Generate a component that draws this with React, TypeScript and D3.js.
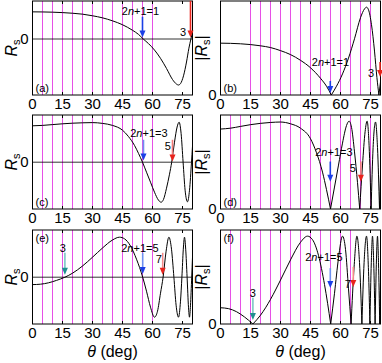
import * as d3 from 'd3';
import React from 'react';

// angle samples (deg) and Rs values
const thetaA = [0, 5, 10, 15, 20, 25, 30, 35, 40, 45, 50, 53, 55.4, 58, 61, 64, 67, 70, 72, 73, 74, 75.5, 77, 78.2, 79.2, 80];
const rsA = [0.59, 0.588, 0.583, 0.574, 0.56, 0.54, 0.505, 0.46, 0.395, 0.31, 0.19, 0.1, 0, -0.1, -0.24, -0.42, -0.64, -0.88, -0.98, -1.0, -0.97, -0.8, -0.5, -0.2, 0, 0.15];

const thetaC = [0, 5, 10, 15, 20, 25, 30, 35, 40, 45, 48, 51, 53, 55, 57, 59, 61, 63, 64.3, 65.5, 67, 68.5, 69.6, 71, 72.3, 73.3, 74.3, 75.3, 76.3, 77.5, 78.5, 79.5, 80];
const rsC = [0.91, 0.92, 0.94, 0.96, 0.975, 0.985, 0.99, 0.97, 0.92, 0.8, 0.64, 0.42, 0.22, 0, -0.25, -0.5, -0.75, -0.95, -1.0, -0.93, -0.65, -0.3, 0, 0.5, 0.88, 1.0, 0.72, 0, -0.7, -0.99, -0.7, 0, 0.4];

const thetaE = [0, 4, 8, 12, 16.2, 20, 25, 30, 35, 40, 43.5, 46, 49, 52, 55.1, 57, 59, 61, 62.5, 64, 65.3, 66.8, 68.2, 69.5, 70.7, 71.8, 73, 74, 74.7, 75.4, 76, 76.6, 77.3, 78, 78.5, 79, 79.6, 80];
const rsE = [-0.185, -0.175, -0.14, -0.08, 0, 0.1, 0.28, 0.5, 0.73, 0.93, 1.0, 0.96, 0.78, 0.45, 0, -0.35, -0.75, -1.0, -0.85, -0.4, 0, 0.65, 1.0, 0.7, 0, -0.7, -1.0, -0.6, 0, 0.7, 1.0, 0.7, 0, -0.75, -1.0, -0.7, 0, 0.5];

const xTicks = [0, 15, 30, 45, 60, 75];
const gridA = [5, 10, 15, 20, 25, 30, 35, 40, 45, 50, 55, 60];
const gridB = [15, 20, 25, 30, 35, 40, 45, 50, 55, 60, 65, 70, 75];
const gridC = [5, 10, 15, 20, 25, 30, 35, 40, 45, 50, 55, 60];
const gridD = [5, 10, 15, 20, 25, 30, 35, 40, 45, 50, 55, 60, 65, 70, 75];
const gridE = [5, 10, 15, 20, 25, 30, 35, 40, 45, 50, 55, 60];
const gridF = [5, 10, 15, 20, 25, 30, 35, 40, 45, 50, 55, 60, 65];

const BLUE = '#1b3fe6';
const RED = '#e8231c';
const TEAL = '#1f9090';

type Note = { theta: number; from: number; to: number; shaft: string; head: string; text: string; tTheta: number; tVal: number };

const notesA: Note[] = [
  { theta: 55, from: 0.485, to: 0.03, shaft: BLUE, head: BLUE, text: '2n+1=1', tTheta: 54, tVal: 0.52 },
  { theta: 79, from: 0.83, to: 0.03, shaft: RED, head: RED, text: '3', tTheta: 75.3, tVal: 0.065 },
];
const notesB: Note[] = [
  { theta: 54.9, from: 0.16, to: 0.023, shaft: BLUE, head: BLUE, text: '2n+1=1', tTheta: 55, tVal: 0.33 },
  { theta: 79.8, from: 0.376, to: 0.205, shaft: RED, head: RED, text: '3', tTheta: 75.3, tVal: 0.205 },
];
const notesC: Note[] = [
  { theta: 55.5, from: 0.56, to: 0.04, shaft: '#6e8ff0', head: BLUE, text: '2n+1=3', tTheta: 58.2, tVal: 0.64 },
  { theta: 70, from: 0.56, to: 0.015, shaft: '#f07a7a', head: RED, text: '5', tTheta: 67.6, tVal: 0.31 },
];
const notesD: Note[] = [
  { theta: 54.9, from: 0.54, to: 0.31, shaft: BLUE, head: BLUE, text: '2n+1=3', tTheta: 56.7, tVal: 0.6 },
  { theta: 70.2, from: 0.54, to: 0.31, shaft: '#f07a7a', head: RED, text: '5', tTheta: 66.1, tVal: 0.42 },
];
const notesE: Note[] = [
  { theta: 16.2, from: 0.61, to: 0.06, shaft: '#7cc6c6', head: TEAL, text: '3', tTheta: 15.2, tVal: 0.64 },
  { theta: 55.1, from: 0.61, to: 0.08, shaft: '#6e8ff0', head: BLUE, text: '2n+1=5', tTheta: 53.7, tVal: 0.63 },
  { theta: 65.1, from: 0.61, to: 0.06, shaft: '#f48a8a', head: RED, text: '7', tTheta: 63.2, tVal: 0.365 },
];
const notesF: Note[] = [
  { theta: 16.2, from: 0.3, to: 0.045, shaft: '#7cc6c6', head: TEAL, text: '3', tTheta: 16.2, tVal: 0.31 },
  { theta: 54.9, from: 0.636, to: 0.41, shaft: '#6e8ff0', head: BLUE, text: '2n+1=5', tTheta: 51.7, tVal: 0.715 },
  { theta: 66.4, from: 0.65, to: 0.42, shaft: '#f48a8a', head: RED, text: '7', tTheta: 63.6, tVal: 0.41 },
];

const W = 160;
const H = 94;
const FONT = 'Liberation Sans, Arial, sans-serif';

function NText({ s, x, y }: { s: string; x: number; y: number }) {
  // "2n+1=k" with italic n
  if (s.startsWith('2n')) {
    return (
      <text x={x} y={y} fontSize={11} textAnchor="middle" fontFamily={FONT}>
        2<tspan fontStyle="italic">n</tspan>{s.slice(2)}
      </text>
    );
  }
  return <text x={x} y={y} fontSize={11} textAnchor="middle" fontFamily={FONT}>{s}</text>;
}

function Panel({ left, top, theta, rs, abs, domain, grid, label, labelTop, notes, showX }: any) {
  const x = d3.scaleLinear().domain([0, 80]).range([left, left + W]);
  const y = d3.scaleLinear().domain(domain).range([top + H, top]);
  const line = d3.line<[number, number]>().x(d => x(d[0])).y(d => y(d[1])).curve(d3.curveMonotoneX);

  let paths: string[] = [];
  if (!abs) {
    paths = [line(theta.map((t: number, i: number) => [t, rs[i]]))!];
  } else {
    // split at zeros so |Rs| keeps sharp dips
    let seg: [number, number][] = [];
    theta.forEach((t: number, i: number) => {
      const v = Math.abs(rs[i]);
      seg.push([t, v]);
      if (v === 0 && seg.length > 1) {
        paths.push(line(seg)!);
        seg = [[t, v]];
      }
    });
    if (seg.length > 1) paths.push(line(seg)!);
  }
  const clipId = 'clip' + label;

  return (
    <g>
      <clipPath id={clipId}><rect x={left} y={top} width={W} height={H} /></clipPath>
      {grid.map((g: number) => (
        <line key={g} x1={x(g)} x2={x(g)} y1={top} y2={top + H} stroke="#e64fe6" strokeWidth={1} />
      ))}
      {!abs && <line x1={left} x2={left + W} y1={y(0)} y2={y(0)} stroke="#000" strokeWidth={0.8} />}
      <g clipPath={`url(#${clipId})`}>
        {paths.map((p, i) => <path key={i} d={p} fill="none" stroke="#000" strokeWidth={1} />)}
      </g>
      {xTicks.map(t => (
        <g key={t}>
          <line x1={x(t)} x2={x(t)} y1={top + H} y2={top + H - 3} stroke="#000" />
          <line x1={x(t)} x2={x(t)} y1={top} y2={top + 3} stroke="#000" />
          <text x={x(t)} y={top + H + 14} fontSize={15} textAnchor="middle" fontFamily={FONT}>{t}</text>
        </g>
      ))}
      <rect x={left} y={top} width={W} height={H} fill="none" stroke="#000" strokeWidth={1} />
      <text x={left - 4} y={y(0) + 5} fontSize={15} textAnchor="end" fontFamily={FONT}>0</text>
      {notes.map((n: Note, i: number) => {
        const ax = x(n.theta);
        const y0 = y(n.from);
        const y1 = y(n.to);
        return (
          <g key={i}>
            <line x1={ax} x2={ax} y1={y0} y2={y1 - 6} stroke={n.shaft} strokeWidth={1.6} />
            <path d={`M${ax - 3},${y1 - 7}L${ax + 3},${y1 - 7}L${ax},${y1}Z`} fill={n.head} />
            <NText s={n.text} x={x(n.tTheta)} y={y(n.tVal)} />
          </g>
        );
      })}
      <text x={left + 3} y={labelTop ? top + 12 : top + H - 3} fontSize={11} fontFamily={FONT}>({label})</text>
      <text transform={`translate(${left - (abs ? 14 : 16)},${top + H / 2}) rotate(-90)`} fontSize={16} textAnchor="middle" fontFamily={FONT}>
        {abs ? '|' : ''}<tspan fontStyle="italic">R</tspan><tspan fontSize={11} dy={3}>s</tspan><tspan dy={-3}>{abs ? '|' : ''}</tspan>
      </text>
    </g>
  );
}

export default function App() {
  const L = 32.5;
  const R = 220.5;
  const tops = [1, 115, 230];
  const dRs1 = [-1.217, 0.826];
  const dRs = [-1.17, 1.18];
  const dAbs = [0, 1.07];
  return (
    <svg width={382} height={363} style={{ position: 'absolute', left: 0, top: 0, background: '#fff' }}>
      <Panel left={L} top={tops[0]} theta={thetaA} rs={rsA} abs={false} domain={dRs1} grid={gridA} label="a" notes={notesA} />
      <Panel left={R} top={tops[0]} theta={thetaA} rs={rsA} abs={true} domain={dAbs} grid={gridB} label="b" notes={notesB} />
      <Panel left={L} top={tops[1]} theta={thetaC} rs={rsC} abs={false} domain={dRs} grid={gridC} label="c" notes={notesC} />
      <Panel left={R} top={tops[1]} theta={thetaC} rs={rsC} abs={true} domain={dAbs} grid={gridD} label="d" notes={notesD} />
      <Panel left={L} top={tops[2]} theta={thetaE} rs={rsE} abs={false} domain={dRs} grid={gridE} label="e" labelTop notes={notesE} />
      <Panel left={R} top={tops[2]} theta={thetaE} rs={rsE} abs={true} domain={dAbs} grid={gridF} label="f" labelTop notes={notesF} />
      <text x={L + W / 2} y={357} fontSize={16} textAnchor="middle" fontFamily={FONT}>
        <tspan fontStyle="italic">θ</tspan> (deg)
      </text>
      <text x={R + W / 2} y={357} fontSize={16} textAnchor="middle" fontFamily={FONT}>
        <tspan fontStyle="italic">θ</tspan> (deg)
      </text>
    </svg>
  );
}
